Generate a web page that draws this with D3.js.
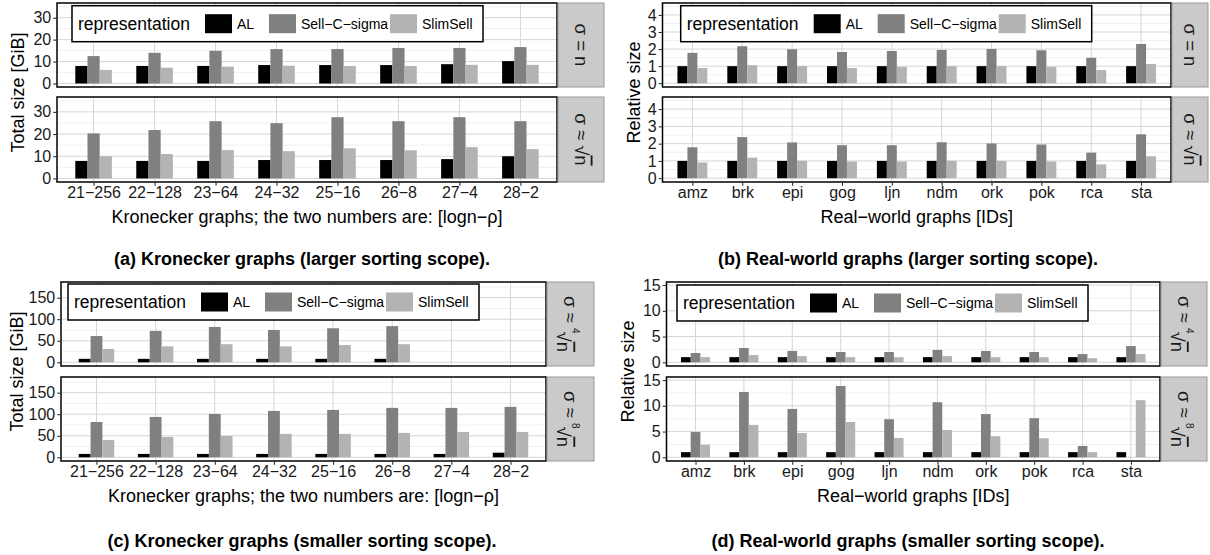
<!DOCTYPE html>
<html lang="en">
<head>
<meta charset="utf-8">
<title>Graph representation sizes</title>
<script src="https://cdn.jsdelivr.net/npm/d3@7"></script>
<style>
  body { margin: 0; background: #fff; }
  svg { font-family: "Liberation Sans", Arial, sans-serif; }
  .grid-major { stroke: #d6d6d6; stroke-width: 1; }
  .grid-minor { stroke: #f0f0f0; stroke-width: 1; }
  .frame { fill: none; stroke: #000; stroke-width: 1.5; }
  .axis text { font-size: 16px; fill: #1a1a1a; }
  .axis line { stroke: #1a1a1a; }
  .axis path { display: none; }
  .title { font-size: 18px; fill: #000; }
  .caption { font-size: 18px; font-weight: bold; fill: #000; }
  .strip { fill: #cacaca; stroke: #999; stroke-width: 1; }
  .strip-text { font-size: 18.5px; fill: #1a1a1a; }
</style>
</head>
<body>
<script>

// categories
var kronCats = ["21\u2212256", "22\u2212128", "23\u221264", "24\u221232", "25\u221216", "26\u22128", "27\u22124", "28\u22122"];
var realCats = ["amz", "brk", "epi", "gog", "ljn", "ndm", "ork", "pok", "rca", "sta"];
var series = ["AL", "Sell\u2212C\u2212sigma", "SlimSell"];
var colors = ["#000000", "#808080", "#b3b3b3"];

// (a) Kronecker, larger sorting scope [GiB]
var aEqAL   = [8.0, 8.0, 8.0, 8.4, 8.4, 8.4, 8.8, 10.2];
var aEqSell = [12.5, 14.0, 14.9, 15.7, 15.7, 16.2, 16.2, 16.6];
var aEqSlim = [6.2, 7.2, 7.7, 8.1, 8.0, 8.0, 8.5, 8.5];
var aSqAL   = [7.9, 7.9, 7.9, 8.3, 8.3, 8.3, 8.7, 10.0];
var aSqSell = [20.3, 21.8, 25.8, 24.9, 27.6, 25.8, 27.6, 25.8];
var aSqSlim = [10.0, 11.0, 12.8, 12.3, 13.6, 12.7, 14.1, 13.2];

// (b) real-world, larger sorting scope [relative]
var bEqAL   = [1, 1, 1, 1, 1, 1, 1, 1, 1, 1];
var bEqSell = [1.78, 2.17, 1.99, 1.83, 1.89, 1.95, 2.01, 1.93, 1.49, 2.30];
var bEqSlim = [0.89, 1.06, 1.0, 0.89, 0.96, 1.0, 1.0, 0.96, 0.77, 1.13];
var bSqAL   = [1, 1, 1, 1, 1, 1, 1, 1, 1, 1];
var bSqSell = [1.79, 2.38, 2.07, 1.91, 1.91, 2.08, 2.01, 1.95, 1.48, 2.54];
var bSqSlim = [0.91, 1.19, 1.01, 0.97, 0.97, 1.01, 1.0, 0.97, 0.80, 1.27];

// (c) Kronecker, smaller sorting scope [GiB]
var cR4AL   = [8, 8, 8, 8, 8, 8, null, null];
var cR4Sell = [61, 73, 82, 75, 79, 84, null, null];
var cR4Slim = [31, 37, 42, 37, 40, 42, null, null];
var cR8AL   = [7.8, 7.8, 7.8, 7.8, 7.8, 7.8, 7.8, 10.7];
var cR8Sell = [82, 93.7, 100.7, 107.7, 110, 114.7, 114.7, 117];
var cR8Slim = [40.3, 47.3, 49.6, 54.3, 54.3, 56.6, 58.9, 58.9];

// (d) real-world, smaller sorting scope [relative]
var dR4AL   = [1, 1, 1, 1, 1, 1, 1, 1, 1, 1];
var dR4Sell = [1.8, 2.77, 2.2, 2.0, 2.0, 2.4, 2.2, 2.0, 1.6, 3.15];
var dR4Slim = [1.0, 1.4, 1.2, 1.0, 1.0, 1.2, 1.0, 1.0, 0.8, 1.6];
var dR8AL   = [1, 1, 1, 1, 1, 1, 1, 1, 1, 1];
var dR8Sell = [4.9, 12.7, 9.4, 13.85, 7.4, 10.7, 8.4, 7.6, 2.2, null];
var dR8Slim = [2.45, 6.3, 4.7, 6.85, 3.75, 5.3, 4.1, 3.7, 1.0, 11.1];

// tick labels
var kronTicks = [0, 10, 20, 30];
var kronMinor = [5, 15, 25, 35];
var realTicks = [0, 1, 2, 3, 4];
var realMinor = [0.5, 1.5, 2.5, 3.5, 4.5];
var kron2Ticks = [0, 50, 100, 150];
var kron2Minor = [25, 75, 125, 175];
var real2Ticks = [0, 5, 10, 15];
var real2Minor = [2.5, 7.5, 12.5];

var w = 1210, h = 555;
var svg = d3.select("body").append("svg").attr("width", w).attr("height", h);

var panels = [
  { cats: kronCats, x0: 57, x1: 557, facets: [[3, 87], [97, 182]], strip: [558, 604],
    yDom: [-1.6, 36.7], ticks: kronTicks, minor: kronMinor,
    data: [[aEqAL, aEqSell, aEqSlim], [aSqAL, aSqSell, aSqSlim]], strips: ["eq", "sqrt"],
    ylab: "Total size [GiB]", ylabX: 18, legend: [72, 5.7],
    xlab: "Kronecker graphs; the two numbers are: [logn\u2212\u03c1]",
    caption: "(a) Kronecker graphs (larger sorting scope).", capX: 302, capY: 259 },
  { cats: realCats, x0: 662.5, x1: 1171, facets: [[3, 87], [97, 182]], strip: [1172, 1208],
    yDom: [-0.22, 4.7], ticks: realTicks, minor: realMinor,
    data: [[bEqAL, bEqSell, bEqSlim], [bSqAL, bSqSell, bSqSlim]], strips: ["eq", "sqrt"],
    ylab: "Relative size", ylabX: 634, legend: [680.7, 5.7],
    xlab: "Real\u2212world graphs [IDs]",
    caption: "(b) Real-world graphs (larger sorting scope).", capX: 908, capY: 259 },
  { cats: kronCats, x0: 61, x1: 546, facets: [[282, 366], [377, 461]], strip: [547, 594],
    yDom: [-8.6, 186.4], ticks: kron2Ticks, minor: kron2Minor,
    data: [[cR4AL, cR4Sell, cR4Slim], [cR8AL, cR8Sell, cR8Slim]], strips: ["4", "8"],
    ylab: "Total size [GiB]", ylabX: 17, legend: [68, 284],
    xlab: "Kronecker graphs; the two numbers are: [logn\u2212\u03c1]",
    caption: "(c) Kronecker graphs (smaller sorting scope).", capX: 302, capY: 541 },
  { cats: realCats, x0: 666.5, x1: 1160, facets: [[282, 366], [377, 461]], strip: [1161, 1207],
    yDom: [-0.72, 15.6], ticks: real2Ticks, minor: real2Minor,
    data: [[dR4AL, dR4Sell, dR4Slim], [dR8AL, dR8Sell, dR8Slim]], strips: ["4", "8"],
    ylab: "Relative size", ylabX: 628, legend: [677, 285],
    xlab: "Real\u2212world graphs [IDs]",
    caption: "(d) Real-world graphs (smaller sorting scope).", capX: 908, capY: 541 }
];

// strip label: sigma relation, rotated like ggplot's right-hand strips
function stripLabel(g, kind, cx, cy) {
  var t = g.append("text").attr("class", "strip-text")
    .attr("transform", "translate(" + cx + "," + cy + ") rotate(90)")
    .attr("text-anchor", "middle").attr("dy", "0.35em");
  if (kind === "eq") {
    t.text("\u03c3 = n");
    return;
  }
  t.append("tspan").text("\u03c3 \u2248 ");
  if (kind !== "sqrt") {
    t.append("tspan").attr("font-size", "10px").attr("dy", "-0.8em").text(kind);
    t.append("tspan").attr("dy", "0.8em").attr("dx", "-2").text("\u221a");
  } else {
    t.append("tspan").text("\u221a");
  }
  t.append("tspan").attr("text-decoration", "overline").text("n");
}

panels.forEach(function(p) {
  var x = d3.scalePoint().domain(p.cats).range([p.x0, p.x1]).padding(0.6);
  var sub = d3.scaleBand().domain(series).range([-0.3 * x.step(), 0.3 * x.step()]);

  p.facets.forEach(function(f, fi) {
    var y = d3.scaleLinear().domain(p.yDom).range([f[1], f[0]]);
    var g = svg.append("g");

    // grid
    g.selectAll(".grid-minor").data(p.minor.filter(function(v) { return v <= p.yDom[1]; }))
      .enter().append("line").attr("class", "grid-minor")
      .attr("x1", p.x0).attr("x2", p.x1)
      .attr("y1", function(d) { return y(d); }).attr("y2", function(d) { return y(d); });
    g.selectAll(".grid-hy").data(p.ticks).enter().append("line").attr("class", "grid-major")
      .attr("x1", p.x0).attr("x2", p.x1)
      .attr("y1", function(d) { return y(d); }).attr("y2", function(d) { return y(d); });
    g.selectAll(".grid-vx").data(p.cats).enter().append("line").attr("class", "grid-major")
      .attr("y1", f[0]).attr("y2", f[1])
      .attr("x1", function(d) { return x(d); }).attr("x2", function(d) { return x(d); });

    // bars
    p.data[fi].forEach(function(vals, si) {
      var rows = p.cats.map(function(c, i) { return { cat: c, v: vals[i] }; })
        .filter(function(d) { return d.v != null; });
      g.selectAll(".bar" + si).data(rows).enter().append("rect")
        .attr("x", function(d) { return x(d.cat) + sub(series[si]); })
        .attr("width", sub.bandwidth())
        .attr("y", function(d) { return y(d.v); })
        .attr("height", function(d) { return y(0) - y(d.v); })
        .attr("fill", colors[si]);
    });

    g.append("rect").attr("class", "frame")
      .attr("x", p.x0).attr("y", f[0]).attr("width", p.x1 - p.x0).attr("height", f[1] - f[0]);

    // y axis
    g.append("g").attr("class", "axis")
      .attr("transform", "translate(" + (p.x0 - 0.75) + ",0)")
      .call(d3.axisLeft(y).tickValues(p.ticks).tickFormat(d3.format("~g")).tickSize(3).tickPadding(2));

    // strip
    svg.append("rect").attr("class", "strip")
      .attr("x", p.strip[0]).attr("y", f[0])
      .attr("width", p.strip[1] - p.strip[0]).attr("height", f[1] - f[0]);
    stripLabel(svg, p.strips[fi], (p.strip[0] + p.strip[1]) / 2, (f[0] + f[1]) / 2);

    if (fi === 1) {
      svg.append("g").attr("class", "axis")
        .attr("transform", "translate(0," + (f[1] + 0.75) + ")")
        .call(d3.axisBottom(x).tickSize(3).tickPadding(1));
    }
  });

  var top = p.facets[0][0], bot = p.facets[1][1];

  // legend
  var lg = svg.append("g").attr("transform", "translate(" + p.legend[0] + "," + p.legend[1] + ")");
  lg.append("rect").attr("width", 411).attr("height", 36)
    .attr("fill", "#fff").attr("stroke", "#000").attr("stroke-width", 1.5);
  lg.append("text").attr("x", 6).attr("y", 18).attr("dy", "0.35em")
    .attr("font-size", "17.5px").text("representation");
  var keyX = [133, 197, 318];
  series.forEach(function(s, i) {
    lg.append("rect").attr("x", keyX[i]).attr("y", 8.5).attr("width", 27).attr("height", 19)
      .attr("fill", colors[i]);
    lg.append("text").attr("x", keyX[i] + 32).attr("y", 18).attr("dy", "0.35em")
      .attr("font-size", "14px").text(s);
  });

  // titles
  svg.append("text").attr("class", "title")
    .attr("transform", "translate(" + p.ylabX + "," + ((top + bot) / 2) + ") rotate(-90)")
    .attr("text-anchor", "middle").attr("dy", "0.35em").text(p.ylab);
  svg.append("text").attr("class", "title")
    .attr("x", (p.x0 + p.x1) / 2).attr("y", bot + 35).attr("dy", "0.35em")
    .attr("text-anchor", "middle").text(p.xlab);
  svg.append("text").attr("class", "caption")
    .attr("x", p.capX).attr("y", p.capY).attr("dy", "0.35em")
    .attr("text-anchor", "middle").text(p.caption);
});

</script>
</body>
</html>
